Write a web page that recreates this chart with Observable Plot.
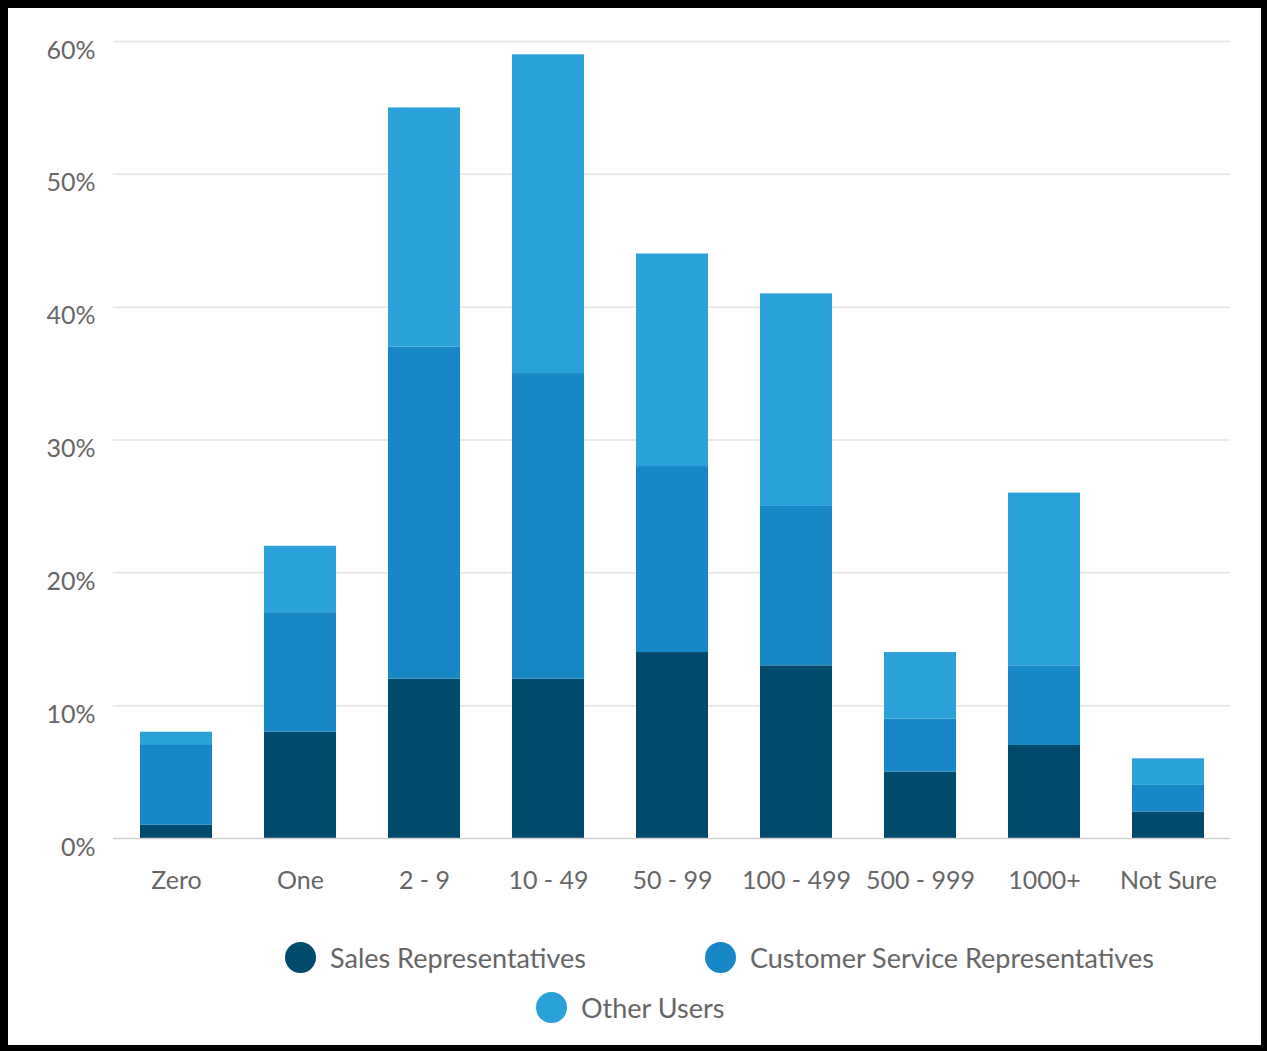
<!DOCTYPE html>
<html>
<head>
<meta charset="utf-8">
<script src="https://cdn.jsdelivr.net/npm/d3@7"></script>
<script src="https://cdn.jsdelivr.net/npm/@observablehq/plot@0.6"></script>
<style>
  html, body { margin: 0; padding: 0; background: #fff; }
  #frame {
    position: relative; width: 1267px; height: 1051px; box-sizing: border-box;
    border-top: 8px solid #000; border-left: 8px solid #000; border-right: 6px solid #000; border-bottom: 6px solid #000;
    background: #fff; overflow: hidden; font-family: Lato, "Open Sans", sans-serif;
  }
  #chart { position: absolute; left: -8px; top: -8px; width: 1267px; }
  #chart svg { max-width: none !important; }
  .leg { position: absolute; display: flex; align-items: center; font-size: 27px; color: #666; white-space: nowrap; }
  .leg .dot { width: 31px; height: 31px; border-radius: 50%; margin-right: 14px; }
</style>
</head>
<body>
<div id="frame"><div id="chart"></div></div>
<script>
const categories = ["Zero", "One", "2 - 9", "10 - 49", "50 - 99", "100 - 499", "500 - 999", "1000+", "Not Sure"];
const seriesNames = ["Sales Representatives", "Customer Service Representatives", "Other Users"];
const salesReps = [1, 8, 12, 12, 14, 13, 5, 7, 2];
const customerServiceReps = [6, 9, 25, 23, 14, 12, 4, 6, 2];
const otherUsers = [1, 5, 18, 24, 16, 16, 5, 13, 2];
const colors = ["#004a6e", "#1787c5", "#2aa1d9"];
const yTicks = [0, 0.1, 0.2, 0.3, 0.4, 0.5, 0.6];

const seriesValues = [salesReps, customerServiceReps, otherUsers];
const data = [];
seriesNames.forEach((s, si) => {
  categories.forEach((c, ci) => data.push({category: c, series: s, value: seriesValues[si][ci] / 100}));
});

const W = 1267, H = 900;
const chart = Plot.plot({
  width: W, height: H,
  marginLeft: 113, marginRight: 37, marginTop: 41, marginBottom: H - 838,
  style: {fontFamily: "Lato, 'Open Sans', sans-serif", fontSize: "25px", color: "#666", background: "transparent"},
  x: {domain: categories, paddingInner: 0.42, paddingOuter: 0.2, label: null},
  y: {domain: [0, 0.6], label: null},
  color: {domain: seriesNames, range: colors},
  marks: [
    Plot.gridY(yTicks.slice(1), {stroke: "#e3e3e3", strokeOpacity: 1, strokeWidth: 1.5}),
    Plot.axisY(yTicks, {tickFormat: d3.format(".0%"), tickSize: 0, tickPadding: 18, dy: 9, fill: "#666", fontSize: 25, label: null}),
    Plot.axisX({tickSize: 0, tickPadding: 33, fill: "#666", fontSize: 25, label: null}),
    Plot.barY(data, {x: "category", y: "value", fill: "series", order: seriesNames}),
    Plot.ruleY([0], {stroke: "#cfcfcf", strokeWidth: 1.5})
  ]
});
document.getElementById("chart").appendChild(chart);

// legend
const legendPos = [[285, 941], [705, 941], [536, 991]];
const frame = document.getElementById("frame");
seriesNames.forEach((s, i) => {
  const el = document.createElement("div");
  el.className = "leg";
  el.style.left = (legendPos[i][0] - 8) + "px";
  el.style.top = (legendPos[i][1] - 8) + "px";
  el.innerHTML = `<span class="dot" style="background:${colors[i]}"></span><span>${s}</span>`;
  frame.appendChild(el);
});
</script>
</body>
</html>
